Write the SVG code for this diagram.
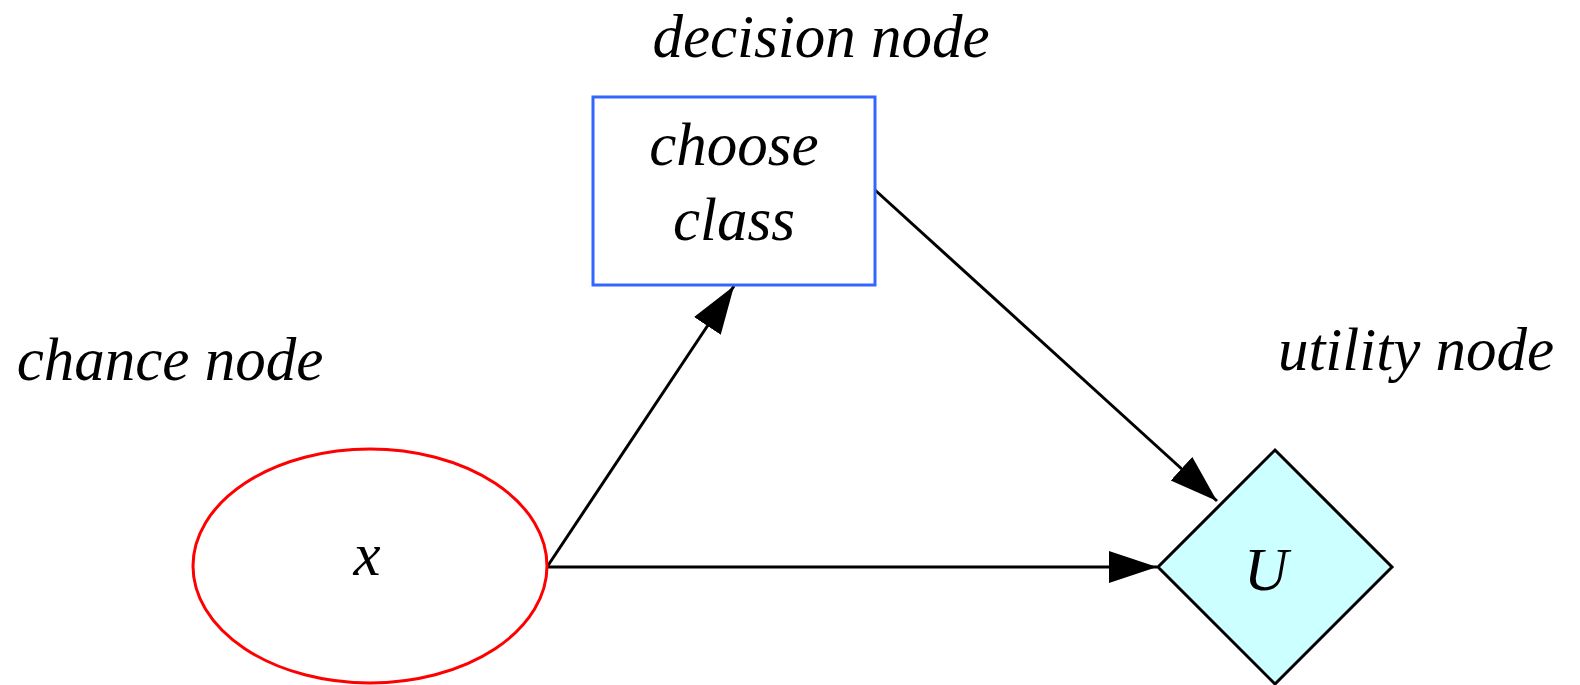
<svg xmlns="http://www.w3.org/2000/svg" width="1580" height="685" viewBox="0 0 1580 685">
<style>
text{font-family:"Liberation Serif","Times New Roman",serif;font-style:italic;fill:#000;text-anchor:middle}
.lbl{font-size:61px}
.edge{stroke:#000;stroke-width:3;fill:none}
</style>
<defs>
<marker id="arr" markerUnits="userSpaceOnUse" markerWidth="50" markerHeight="34" viewBox="0 0 50 34" refX="48" refY="17" orient="auto">
<path d="M0,1 L48,17 L0,33 Z" fill="#000"/>
</marker>
</defs>
<rect width="1580" height="685" fill="#fff"/>
<text class="lbl" x="821" y="57">decision node</text>
<text class="lbl" x="170" y="380">chance node</text>
<text class="lbl" x="1416" y="370">utility node</text>
<g id="edges">
<line class="edge" x1="547" y1="567" x2="734" y2="286" marker-end="url(#arr)"/>
<line class="edge" x1="875" y1="190" x2="1217" y2="501" marker-end="url(#arr)"/>
<line class="edge" x1="547" y1="567" x2="1157" y2="567" marker-end="url(#arr)"/>
</g>
<g id="decision">
<rect x="593" y="97" width="282" height="188" fill="#fff" stroke="#3366ff" stroke-width="3"/>
<text class="lbl" x="734" y="165">choose</text>
<text class="lbl" x="734" y="240">class</text>
</g>
<g id="chance">
<ellipse cx="370" cy="566" rx="177" ry="117" fill="#fff" stroke="#ff0000" stroke-width="3"/>
<text class="lbl" x="367" y="575">x</text>
</g>
<g id="utility">
<polygon points="1275,450 1392,567 1275,684 1158,567" fill="#ccffff" stroke="#000" stroke-width="3"/>
<text class="lbl" x="1266" y="590">U</text>
</g>
</svg>
